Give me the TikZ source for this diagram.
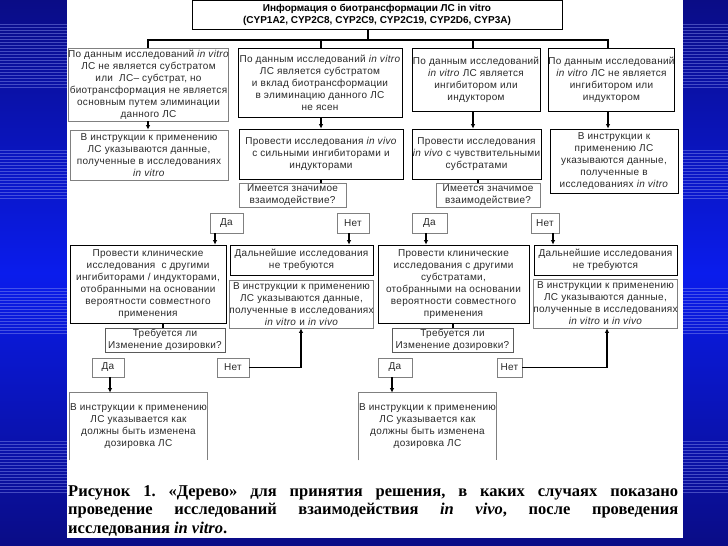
\documentclass[tikz,border=0pt]{standalone}
\usepackage{fontspec}
\setmainfont{Liberation Serif}
\newfontfamily\boxfont[LetterSpace=3]{Liberation Sans}
\newfontfamily\topfont{Liberation Sans}
\usetikzlibrary{arrows.meta}
\definecolor{bgtop}{HTML}{0A0C86}
\definecolor{bgmid}{HTML}{0A1CEC}
\definecolor{txt}{HTML}{2A2A2A}
\definecolor{gline}{HTML}{808080}
\definecolor{stripe}{HTML}{8C96F0}
\newcommand\invitro{\textit{in vitro}}
\newcommand\invivo{\textit{in vivo}}
\tikzset{
  bx/.style={draw=black, line width=0.8pt, inner sep=0pt, align=center, text=txt,
    font=\boxfont\fontsize{10}{12}\selectfont},
  gbx/.style={bx, draw=gline},
  topbx/.style={bx, font=\topfont\bfseries\fontsize{10}{11.5}\selectfont, text=black},
  link/.style={line width=1.6pt, black},
  arr/.style={link, -{Latex[length=4.5pt,width=4.5pt]}},
  capt/.style={inner sep=0pt, font=\frenchspacing\bfseries\fontsize{16.5}{18}\selectfont, text=black},
  stripeline/.style={draw=stripe, line width=0.5pt, opacity=0.45}
}
\begin{document}
\begin{tikzpicture}[x=1pt,y=-1pt]
\useasboundingbox (0,0) rectangle (728,546);
% background
\shade[top color=bgtop, bottom color=bgtop, middle color=bgmid] (0,0) rectangle (728,546);
\foreach \a/\b in {22/88,150/200,287/333,440/493}{
  \foreach \y in {\a,...,\b}{
    \pgfmathparse{mod(\y,3)==0 ? 1 : 0}
    \ifnum\pgfmathresult=1
      \draw[stripeline] (0,\y) -- (67,\y);
      \draw[stripeline] (683,\y) -- (728,\y);
    \fi
  }
}
\fill[white] (67,0) rectangle (683,538);

% top
\node[topbx, minimum width=370pt, minimum height=28.5pt] (top) at (377,15)
  {Информация о биотрансформации ЛС in vitro\\(CYP1A2, CYP2C8, CYP2C9, CYP2C19, CYP2D6, CYP3A)};

% row 1
\node[gbx, minimum width=157pt, minimum height=73pt] (A1) at (148.5,84.5)
  {По данным исследований \invitro\\ЛС не является субстратом\\или~~ЛС– субстрат, но\\биотрансформация не является\\основным путем элиминации\\данного ЛС};
\node[bx, minimum width=164pt, minimum height=69pt] (B1) at (320,82.5)
  {По данным исследований \invitro\\ЛС является субстратом\\и вклад биотрансформации\\в элиминацию данного ЛС\\не ясен};
\node[bx, minimum width=128pt, minimum height=63pt] (C1) at (476,79.5)
  {По данным исследований\\\invitro{} ЛС является\\ингибитором или\\индуктором};
\node[bx, minimum width=123pt, minimum height=63pt] (D1) at (611.5,79.5)
  {По данным исследований\\\invitro{} ЛС не является\\ингибитором или\\индуктором};

% bus
\coordinate (bus) at (368,40);
\draw[link] (top.south -| bus) -- (bus);
\draw[link] (A1.north -| 148,0) |- (bus) -| (D1.north -| 608,0);
\draw[link] (bus -| 321,0) -- (B1.north -| 321,0);
\draw[link] (bus -| 473,0) -- (C1.north -| 473,0);

% row 2
\node[gbx, minimum width=158pt, minimum height=50pt] (A2) at (149,155)
  {В инструкции к применению\\ЛС указываются данные,\\полученные в исследованиях\\\invitro};
\node[bx, minimum width=164pt, minimum height=50pt] (B2) at (321,154)
  {Провести исследования \invivo\\с сильными ингибиторами и\\индукторами};
\node[bx, minimum width=129pt, minimum height=50pt] (C2) at (476.5,154)
  {Провести исследования\\\invivo{} с чувствительными\\субстратами};
\node[bx, minimum width=128pt, minimum height=64pt] (D2) at (614,161)
  {В инструкции к\\применению ЛС\\указываются данные,\\полученные в\\исследованиях \invitro};

\draw[arr] (A1.south -| 148,0) -- (A2.north -| 148,0);
\draw[arr] (B1.south -| 321,0) -- (B2.north -| 321,0);
\draw[arr] (C1.south -| 473,0) -- (C2.north -| 473,0);
\draw[arr] (D1.south -| 608,0) -- (D2.north -| 608,0);

% questions 1
\node[gbx, minimum width=107pt, minimum height=24pt] (Q1) at (292.5,195)
  {Имеется значимое\\взаимодействие?};
\node[gbx, minimum width=104pt, minimum height=24pt] (Q2) at (488,195)
  {Имеется значимое\\взаимодействие?};
\draw[link] (B2.south -| 321,0) -- (Q1.north -| 321,0);
\draw[link] (C2.south -| 478,0) -- (Q2.north -| 478,0);

\node[gbx, minimum width=33pt, minimum height=20pt] (Y1) at (226.5,223) {Да};
\node[gbx, minimum width=32pt, minimum height=20pt] (N1) at (353,223) {Нет};
\node[gbx, minimum width=35pt, minimum height=20pt] (Y2) at (429.5,223) {Да};
\node[gbx, minimum width=28pt, minimum height=20pt] (N2) at (545,223) {Нет};

% row 3
\node[bx, minimum width=156pt, minimum height=78pt] (A3) at (148,284)
  {Провести клинические\\исследования~~с другими\\ингибиторами / индукторами,\\отобранными на основании\\вероятности совместного\\применения};
\node[bx, minimum width=143pt, minimum height=30pt] (B3) at (301.5,260)
  {Дальнейшие исследования\\не требуются};
\node[gbx, minimum width=143pt, minimum height=48pt] (B4) at (301.5,304)
  {В инструкции к применению\\ЛС указываются данные,\\полученные в исследованиях\\\invitro{} и \invivo};
\node[bx, minimum width=151pt, minimum height=78pt] (C3) at (453.5,284)
  {Провести клинические\\исследования с другими\\субстратами,\\отобранными на основании\\вероятности совместного\\применения};
\node[bx, minimum width=143pt, minimum height=30pt] (D3) at (605.5,260)
  {Дальнейшие исследования\\не требуются};
\node[gbx, minimum width=143pt, minimum height=49pt] (D4) at (605.5,303.5)
  {В инструкции к применению\\ЛС указываются данные,\\полученные в исследованиях\\\invitro{} и \invivo};

\draw[arr] (Y1.south -| 215,0) -- (A3.north -| 215,0);
\draw[arr] (N1.south -| 349,0) -- (B3.north -| 349,0);
\draw[arr] (Y2.south -| 426,0) -- (C3.north -| 426,0);
\draw[arr] (N2.south -| 553,0) -- (D3.north -| 553,0);

% questions 2
\node[bx, draw=gline!70!black, minimum width=120pt, minimum height=24pt] (Q3) at (165,340)
  {Требуется ли\\Изменение дозировки?};
\node[bx, draw=gline!70!black, minimum width=121pt, minimum height=24pt] (Q4) at (452.5,340)
  {Требуется ли\\Изменение дозировки?};
\draw[link] (A3.south -| 163,0) -- (Q3.north -| 163,0);
\draw[link] (C3.south -| 453,0) -- (Q4.north -| 453,0);

\node[gbx, minimum width=32pt, minimum height=19pt] (Y3) at (108,367.5) {Да};
\node[gbx, minimum width=32pt, minimum height=19pt] (N3) at (233,367.5) {Нет};
\node[gbx, minimum width=34pt, minimum height=19pt] (Y4) at (395,367.5) {Да};
\node[gbx, minimum width=25pt, minimum height=19pt] (N4) at (509.5,367.5) {Нет};

\draw[arr] (N3.east) -| (B4.south -| 301,0);
\draw[arr] (N4.east) -| (D4.south -| 607,0);

% row 4 (open at the bottom)
\node[bx, draw=none, minimum width=135pt, minimum height=67pt] (A4) at (138.5,426.5)
  {В инструкции к применению\\ЛС указывается как\\должны быть изменена\\дозировка ЛС};
\node[bx, draw=none, minimum width=137pt, minimum height=67pt] (C4) at (427.5,426.5)
  {В инструкции к применению\\ЛС указывается как\\должны быть изменена\\дозировка ЛС};
\draw[gline, line width=0.8pt] (A4.south west) -- (A4.north west) -- (A4.north east) -- (A4.south east);
\draw[gline, line width=0.8pt] (C4.south west) -- (C4.north west) -- (C4.north east) -- (C4.south east);

\draw[arr] (Y3.south -| 110,0) -- (A4.north -| 110,0);
\draw[arr] (Y4.south -| 392,0) -- (C4.north -| 392,0);

% caption
\node[capt, anchor=base west] (cap1) at (68,496)
  {\makebox[610pt][s]{Рисунок 1. «Дерево» для принятия решения, в каких случаях показано}};
\node[capt, anchor=base west] (cap2) at (68,514.5)
  {\makebox[610pt][s]{проведение исследований взаимодействия \textit{in vivo}, после проведения}};
\node[capt, anchor=base west] (cap3) at (68,533)
  {исследования \textit{in vitro}.};
\end{tikzpicture}
\end{document}
